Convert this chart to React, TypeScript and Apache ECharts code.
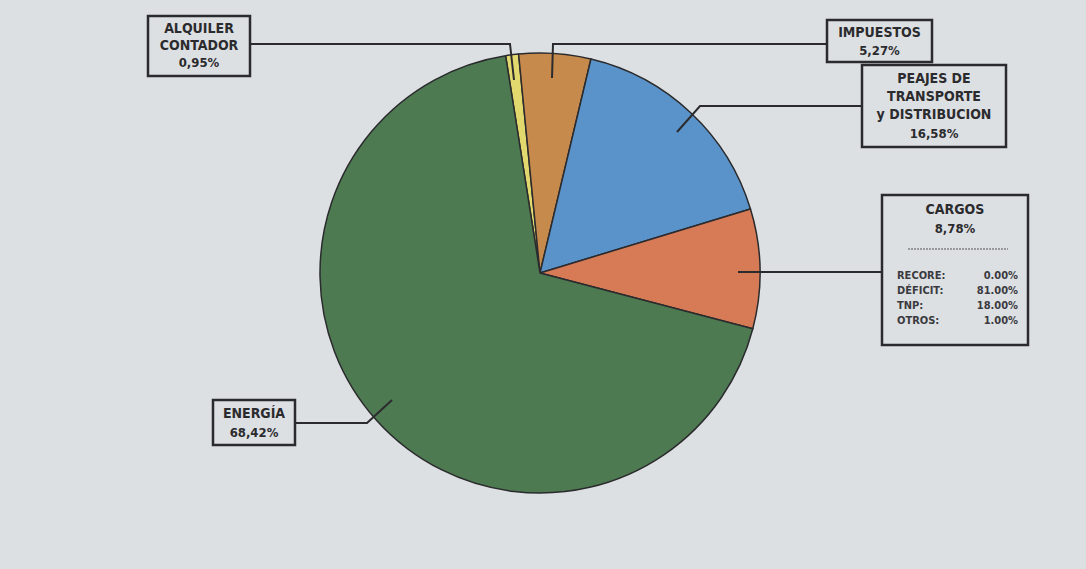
import React, { useEffect, useRef } from "react";
import * as echarts from "echarts";

// ---- data ----
const categories = ["ALQUILER CONTADOR", "IMPUESTOS", "PEAJES DE TRANSPORTE Y DISTRIBUCIÓN", "CARGOS", "ENERGÍA"];
const shares = [0.95, 5.27, 16.58, 8.78, 68.42];
const labelTitles = [["ALQUILER", "CONTADOR"], ["IMPUESTOS"], ["PEAJES DE", "TRANSPORTE", "y DISTRIBUCION"], ["CARGOS"], ["ENERGÍA"]];
const cargosParts = ["RECORE:", "DÉFICIT:", "TNP:", "OTROS:"];
const cargosPartValues = [0.0, 81.0, 18.0, 1.0];

// ---- styles / layout ----
const colors = ["#e2d96e", "#c78a4d", "#5a93c9", "#d67b56", "#4e7a52"];
const ink = "#2b2b2e";
const bg = "#dde0e3";
const font = "'DejaVu Sans Condensed', 'DejaVu Sans', sans-serif";

// box: [left, top, width, height], title line y centers, value y, leader polyline
const layouts = [
  { box: [148, 16, 102, 60], ys: [28, 45], vy: 62, line: [[250, 44], [510, 44], [514, 80]] },
  { box: [827, 20, 105, 42], ys: [32], vy: 50, line: [[827, 44], [553, 44], [552, 78]] },
  { box: [862, 65, 144, 82], ys: [78, 96, 114], vy: 133, line: [[862, 106], [700, 106], [677, 132]] },
  { box: [882, 195, 146, 150], ys: [209], vy: 228, line: [[882, 272], [738, 272]] },
  { box: [213, 400, 82, 45], ys: [413], vy: 432, line: [[295, 423], [367, 423], [392, 400]] },
];

const fmt = (v: number) => v.toFixed(2).replace(".", ",") + "%";

export default function App() {
  const ref = useRef<HTMLDivElement>(null);
  useEffect(() => {
    document.body.style.margin = "0";
    const chart = echarts.init(ref.current!, null, { renderer: "svg" });
    const graphics: any[] = [];
    layouts.forEach((l, i) => {
      const [x, y, w, h] = l.box;
      const cx = x + w / 2;
      graphics.push({
        type: "polyline",
        shape: { points: l.line },
        style: { stroke: ink, lineWidth: 2, fill: null },
        z: 10,
      });
      graphics.push({
        type: "rect",
        shape: { x, y, width: w, height: h },
        style: { fill: bg, stroke: ink, lineWidth: 2.5 },
        z: 10,
      });
      labelTitles[i].forEach((t, k) => {
        graphics.push({
          type: "text",
          z: 11,
          style: {
            text: t, x: cx, y: l.ys[k], align: "center", verticalAlign: "middle",
            font: `bold 14px ${font}`, fill: ink,
          },
        });
      });
      graphics.push({
        type: "text",
        z: 11,
        style: {
          text: fmt(shares[i]), x: cx, y: l.vy, align: "center", verticalAlign: "middle",
          font: `bold 13px ${font}`, fill: ink,
        },
      });
    });
    // Cargos breakdown
    graphics.push({
      type: "line",
      shape: { x1: 908, y1: 249, x2: 1008, y2: 249 },
      style: { stroke: "#555", lineWidth: 1, lineDash: [2, 1] },
      z: 11,
    });
    cargosParts.forEach((p, k) => {
      const yy = 275 + k * 15;
      graphics.push({
        type: "text", z: 11,
        style: { text: p, x: 897, y: yy, align: "left", verticalAlign: "middle", font: `bold 11px ${font}`, fill: "#3a3a3e" },
      });
      graphics.push({
        type: "text", z: 11,
        style: { text: cargosPartValues[k].toFixed(2) + "%", x: 1018, y: yy, align: "right", verticalAlign: "middle", font: `bold 11px ${font}`, fill: "#3a3a3e" },
      });
    });

    chart.setOption({
      animation: false,
      backgroundColor: bg,
      series: [
        {
          type: "pie",
          center: [540, 273],
          radius: 220,
          startAngle: 99,
          clockwise: true,
          label: { show: false },
          labelLine: { show: false },
          itemStyle: { borderColor: ink, borderWidth: 1.5 },
          data: categories.map((c, i) => ({ name: c, value: shares[i], itemStyle: { color: colors[i] } })),
        },
      ],
      graphic: graphics,
    });
    return () => chart.dispose();
  }, []);
  return <div ref={ref} style={{ width: 1086, height: 569 }} />;
}
